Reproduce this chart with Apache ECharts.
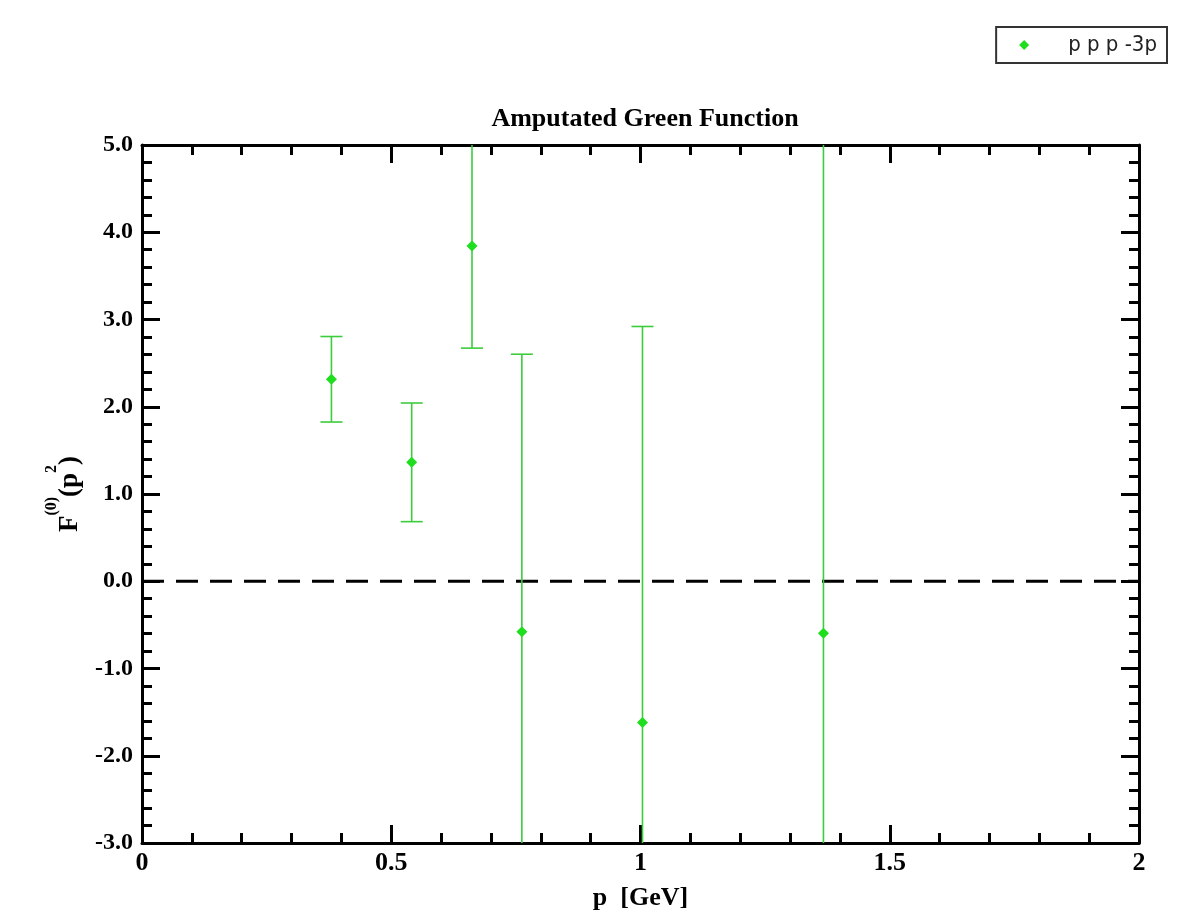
<!DOCTYPE html>
<html>
<head>
<meta charset="utf-8">
<script src="https://cdn.jsdelivr.net/npm/echarts@6/dist/echarts.min.js"></script>
<style>
html,body{margin:0;padding:0;background:#fff;}
#c{width:1179px;height:923px;}
</style>
</head>
<body>
<div id="c"></div>
<script>
// ---- data ----
var seriesName = 'p p p -3p';
var pVals = [0.380, 0.541, 0.662, 0.762, 1.004, 1.367];
var fVals = [2.315, 1.363, 3.842, -0.578, -1.620, -0.597];
var fErr  = [0.49, 0.68, 1.17, 3.18, 4.54, 6.5];
var zeroLineX = [0, 2];
var zeroLineY = [0, 0];

var pts = pVals.map(function (p, i) { return [p, fVals[i]]; });
var errs = pVals.map(function (p, i) { return [p, fVals[i] - fErr[i], fVals[i] + fErr[i]]; });
var zeroLine = zeroLineX.map(function (x, i) { return [x, zeroLineY[i]]; });

var green = '#1ede1e';
var errGreen = '#3ccc3c';
var serif = '"Liberation Serif", "DejaVu Serif", serif';

var chart = echarts.init(document.getElementById('c'), null, {renderer: 'canvas'});

function axisCommon(extra) {
  var base = {
    axisLine: {show: true, onZero: false, lineStyle: {color: '#000', width: 3}},
    axisTick: {show: true, inside: true, length: 18, lineStyle: {color: '#000', width: 3}},
    minorTick: {show: true, splitNumber: 5, length: 10, lineStyle: {color: '#000', width: 3}},
    splitLine: {show: false},
    minorSplitLine: {show: false}
  };
  for (var k in extra) base[k] = extra[k];
  return base;
}

chart.setOption({
  animation: false,
  backgroundColor: '#fff',
  title: {
    text: 'Amputated Green Function',
    left: 640, top: 101, textAlign: 'center',
    textStyle: {fontFamily: serif, fontWeight: 'bold', fontSize: 26, color: '#000'}
  },
  legend: {
    data: [seriesName],
    right: 12, top: 27,
    orient: 'vertical',
    backgroundColor: '#fff',
    borderColor: '#333', borderWidth: 2, borderRadius: 0,
    padding: [7, 10, 7, 23],
    itemWidth: 10, itemHeight: 10,
    icon: 'diamond',
    textStyle: {fontFamily: '"DejaVu Sans Condensed", "DejaVu Sans", sans-serif', fontSize: 22, color: '#222', padding: [0, 0, 0, 34]}
  },
  grid: {left: 142, right: 40, top: 145, bottom: 80, containLabel: false},
  xAxis: [
    axisCommon({
      type: 'value', min: 0, max: 2, interval: 0.5, position: 'bottom',
      name: 'p  [GeV]', nameLocation: 'middle', nameGap: 42,
      nameTextStyle: {fontFamily: serif, fontWeight: 'bold', fontSize: 26, color: '#000'},
      axisLabel: {fontFamily: serif, fontWeight: 'bold', fontSize: 26, color: '#000', margin: 7}
    }),
    axisCommon({
      type: 'value', min: 0, max: 2, interval: 0.5, position: 'top',
      axisLabel: {show: false}
    })
  ],
  yAxis: [
    axisCommon({
      type: 'value', min: -3, max: 5, interval: 1, position: 'left',
      name: '{b|F}{sup|(0)}{b|(p}{sup|2}{b|)}', nameLocation: 'middle', nameGap: 58, nameRotate: 90,
      nameTextStyle: {
        rich: {
          b: {fontFamily: serif, fontWeight: 'bold', fontSize: 27, color: '#000', lineHeight: 40, verticalAlign: 'bottom'},
          sup: {fontFamily: serif, fontWeight: 'bold', fontSize: 16, color: '#000', lineHeight: 40, verticalAlign: 'top'}
        }
      },
      axisLabel: {fontFamily: serif, fontWeight: 'bold', fontSize: 24, color: '#000', margin: 9,
        formatter: function (v) { return v.toFixed(1); }}
    }),
    axisCommon({
      type: 'value', min: -3, max: 5, interval: 1, position: 'right',
      axisLabel: {show: false}
    })
  ],
  series: [
    {
      type: 'line', data: zeroLine, symbol: 'none', silent: true,
      lineStyle: {color: '#000', width: 3, type: [22, 12]}, z: 2
    },
    {
      type: 'custom', data: errs, clip: true, silent: true, z: 3,
      renderItem: function (params, api) {
        var x = api.value(0);
        var lo = api.coord([x, api.value(1)]);
        var hi = api.coord([x, api.value(2)]);
        var hw = 11;
        var st = {stroke: errGreen, lineWidth: 1.6};
        return {
          type: 'group',
          children: [
            {type: 'line', shape: {x1: lo[0], y1: lo[1], x2: hi[0], y2: hi[1]}, style: st},
            {type: 'line', shape: {x1: lo[0] - hw, y1: lo[1], x2: lo[0] + hw, y2: lo[1]}, style: st},
            {type: 'line', shape: {x1: hi[0] - hw, y1: hi[1], x2: hi[0] + hw, y2: hi[1]}, style: st}
          ]
        };
      }
    },
    {
      name: seriesName, type: 'scatter', data: pts, symbol: 'diamond', symbolSize: 11, z: 4,
      itemStyle: {color: green, opacity: 1}
    }
  ]
});
</script>
</body>
</html>
